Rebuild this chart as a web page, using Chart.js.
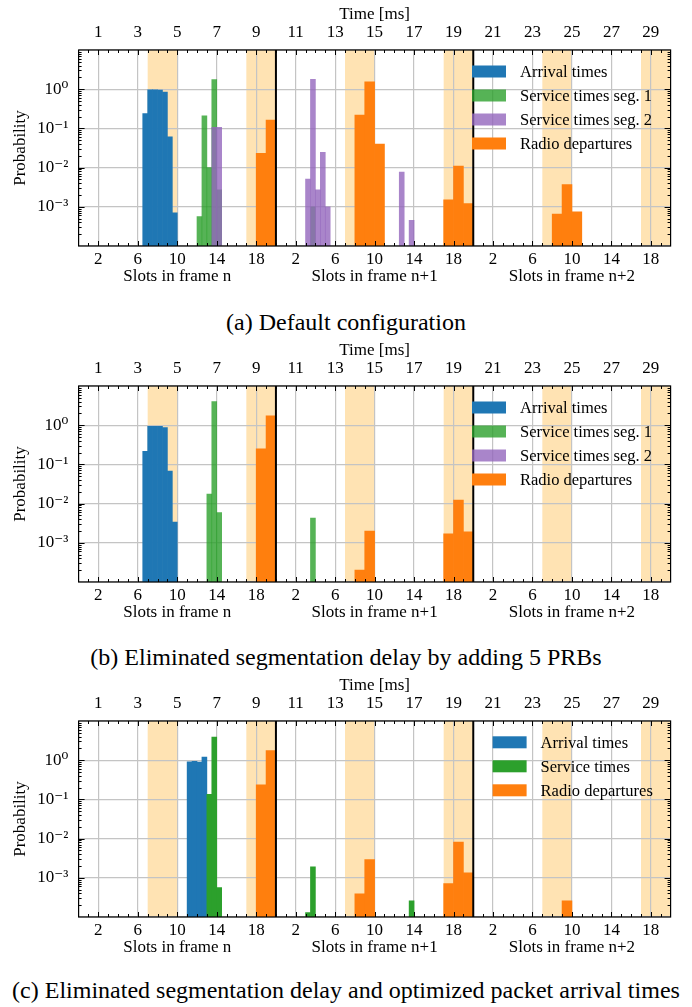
<!DOCTYPE html>
<html>
<head>
<meta charset="utf-8">
<script src="https://cdn.jsdelivr.net/npm/chart.js@4.4.1/dist/chart.umd.min.js"></script>
<style>
  body { margin: 0; background: #fff; width: 692px; height: 1007px; position: relative; overflow: hidden; }
  canvas { position: absolute; left: 0; }
  .caption { position: absolute; left: 0; width: 692px; text-align: center; color: #000;
    font-family: "Liberation Serif", "DejaVu Serif", serif; font-size: 24px; line-height: 28px; }
</style>
</head>
<body>
<canvas id="chartA" width="692" height="300" style="top:0px"></canvas>
<div class="caption" style="top:308px">(a) Default configuration</div>
<canvas id="chartB" width="692" height="300" style="top:336px"></canvas>
<div class="caption" style="top:643px">(b) Eliminated segmentation delay by adding 5 PRBs</div>
<canvas id="chartC" width="692" height="300" style="top:671px"></canvas>
<div class="caption" style="top:976px">(c) Eliminated segmentation delay and optimized packet arrival times</div>

<script>
const fontFamily = '"Liberation Serif", "DejaVu Serif", serif';

// x axis: slots 0..60 over three radio frames, time [ms] = slot / 2
const slotTicks = [2, 6, 10, 14, 18, 22, 26, 30, 34, 38, 42, 46, 50, 54, 58];
const frameLabels = { 10: "Slots in frame n", 30: "Slots in frame n+1", 50: "Slots in frame n+2" };
const decadeTicks = [1e-4, 1e-3, 1e-2, 1e-1, 1, 10];
const shadedSlots = [[7, 10], [17, 20], [27, 30], [37, 40], [47, 50], [57, 60]];
const frameEdges = [20, 40];

// (a) Default configuration -- half-slot bins given by start slot
const arrivalStartA = [6.5, 7, 7.5, 8, 8.5, 9, 9.5];
const arrivalProbA = [0.24, 0.97, 0.97, 0.95, 0.85, 0.061, 0.0007];
const seg1StartA = [12, 12.5, 13, 13.5, 14, 23.5];
const seg1ProbA = [0.00056, 0.21, 0.010, 1.76, 0.0027, 0.001];
const seg2StartA = [13.5, 14, 23, 23.5, 24, 24.5, 25, 32.5, 33.5];
const seg2ProbA = [0.106, 0.106, 0.0051, 1.78, 0.0027, 0.0245, 0.001, 0.0077, 0.00045];
// radio departures use whole-slot bins
const radioSlotA = [18, 19, 28, 29, 30, 37, 38, 39, 48, 49, 50];
const radioProbA = [0.023, 0.163, 0.22, 1.54, 0.040, 0.0015, 0.011, 0.0012, 0.00065, 0.0037, 0.00074];

// (b) Eliminated segmentation delay by adding 5 PRBs
const arrivalStartB = [6.5, 7, 7.5, 8, 8.5, 9, 9.5];
const arrivalProbB = [0.216, 0.93, 0.93, 0.93, 0.87, 0.068, 0.0034];
const seg1StartB = [13, 13.5, 14, 23.5];
const seg1ProbB = [0.0175, 4.0, 0.0059, 0.0043];
const seg2StartB = [];
const seg2ProbB = [];
const radioSlotB = [18, 19, 28, 29, 37, 38, 39];
const radioProbB = [0.25, 1.73, 0.0002, 0.0020, 0.0017, 0.0123, 0.0019];

// (c) Eliminated segmentation delay and optimized packet arrival times
const arrivalStartC = [11, 11.5, 12, 12.5];
const arrivalProbC = [0.91, 0.94, 0.89, 1.2];
const serviceStartC = [13, 13.5, 14, 23, 23.5, 33.5];
const serviceProbC = [0.135, 3.9, 0.00056, 0.00013, 0.0019, 0.00026];
const radioSlotC = [18, 19, 28, 29, 37, 38, 39, 49];
const radioProbC = [0.234, 1.76, 0.00039, 0.0029, 0.00071, 0.0081, 0.00134, 0.00026];

const blue = "#1f77b4";
const orange = "#ff7f0e";
const greenSoft = "rgba(44, 160, 44, 0.8)";
const purpleSoft = "rgba(148, 103, 189, 0.8)";
const green = "#2ca02c";
const gridColor = "#c4c4c4";

function halfSlotBars(label, starts, probs, color, order) {
  return {
    label, backgroundColor: color, xAxisID: "x", order,
    data: starts.map((s, i) => ({ x: s + 0.25, y: probs[i] })),
  };
}

function slotBars(label, starts, probs, color, order) {
  return {
    label, backgroundColor: color, xAxisID: "x2", order,
    data: starts.map((s, i) => ({ x: s + 0.5, y: probs[i] })),
  };
}

const supers = { "-": "\u207B", "0": "\u2070", "1": "\u00B9", "2": "\u00B2", "3": "\u00B3" };
function powerLabel(v) {
  const e = Math.round(Math.log10(v));
  if (e > 0 || e < -3) return "";
  return "10" + String(e).split("").map((c) => supers[c]).join("");
}

// shaded slots, frame edges, inward ticks, box and the legend
function panelDecor(legendAt) {
  return {
    id: "panelDecor",
    beforeDraw(chart) {
      const { ctx, chartArea: a, scales } = chart;
      ctx.save();
      ctx.fillStyle = "#ffe3b3";
      shadedSlots.forEach(([s0, s1]) => {
        const x0 = scales.x.getPixelForValue(s0);
        const x1 = scales.x.getPixelForValue(s1);
        ctx.fillRect(x0, a.top, x1 - x0, a.bottom - a.top);
      });
      ctx.restore();
    },
    afterDatasetsDraw(chart) {
      const { ctx, chartArea: a, scales } = chart;
      ctx.save();
      ctx.strokeStyle = "#000";

      ctx.lineWidth = 2;
      frameEdges.forEach((s) => {
        const px = scales.x.getPixelForValue(s);
        ctx.beginPath();
        ctx.moveTo(px, a.top);
        ctx.lineTo(px, a.bottom);
        ctx.stroke();
      });

      ctx.lineWidth = 1;
      ctx.beginPath();
      for (let s = 1; s < 60; s++) {
        const px = Math.round(scales.x.getPixelForValue(s)) + 0.5;
        const len = slotTicks.includes(s) ? 5 : 3;
        ctx.moveTo(px, a.bottom); ctx.lineTo(px, a.bottom - len);
        ctx.moveTo(px, a.top); ctx.lineTo(px, a.top + len);
      }
      for (let e = -4; e <= 0; e++) {
        for (let k = 1; k <= 9; k++) {
          if (e === -4 && k === 1) continue;
          const py = Math.round(scales.y.getPixelForValue(k * Math.pow(10, e))) + 0.5;
          const len = k === 1 ? 6 : 3;
          ctx.moveTo(a.left, py); ctx.lineTo(a.left + len, py);
          ctx.moveTo(a.right, py); ctx.lineTo(a.right - len, py);
        }
      }
      ctx.stroke();

      ctx.lineWidth = 1.2;
      ctx.strokeRect(a.left, a.top, a.right - a.left, a.bottom - a.top);

      // legend inside the plot
      ctx.font = "16.5px " + fontFamily;
      ctx.textBaseline = "middle";
      ctx.fillStyle = "#000";
      chart.data.datasets.forEach((ds, i) => {
        const cy = a.top + legendAt.top + i * 24;
        const lx = a.left + legendAt.left;
        ctx.fillStyle = ds.backgroundColor;
        ctx.fillRect(lx, cy - 6, 34, 12);
        ctx.fillStyle = "#000";
        ctx.fillText(ds.label, lx + 48, cy + 1);
      });
      ctx.restore();
    },
  };
}

function makeChart(id, datasets, legendAt) {
  const ctx = document.getElementById(id).getContext("2d");
  const tickFont = { family: fontFamily, size: 17 };
  return new Chart(ctx, {
    type: "bar",
    data: { datasets },
    options: {
      responsive: false,
      animation: false,
      events: [],
      layout: { padding: { left: 0, right: 21.4, top: 0, bottom: 0 } },
      datasets: { bar: { grouped: false, barPercentage: 1, categoryPercentage: 1, borderWidth: 0 } },
      plugins: { legend: { display: false }, tooltip: { enabled: false } },
      scales: {
        x: {
          type: "linear", position: "bottom", min: 0, max: 60, offset: false,
          afterBuildTicks: (s) => { s.ticks = slotTicks.map((v) => ({ value: v })); },
          afterFit: (s) => { s.height = 54; },
          grid: { color: gridColor, lineWidth: 1.2, drawTicks: false, offset: false },
          border: { display: false },
          ticks: {
            autoSkip: false, maxRotation: 0, padding: 5.5, color: "#000",
            font: { family: fontFamily, size: 17, lineHeight: 1.0 },
            callback: (v) => frameLabels[v] ? [String(v % 20), frameLabels[v]] : String(v % 20),
          },
        },
        x2: { type: "linear", axis: "x", display: false, min: 0, max: 60, offset: false },
        time: {
          type: "linear", axis: "x", position: "top", min: 0, max: 60, offset: false,
          afterBuildTicks: (s) => { s.ticks = slotTicks.map((v) => ({ value: v })); },
          afterFit: (s) => { s.height = 50; },
          grid: { display: false, drawTicks: false },
          border: { display: false },
          ticks: { autoSkip: false, maxRotation: 0, padding: 6.8, color: "#000", font: tickFont,
            callback: (v) => String(v / 2) },
          title: { display: true, text: "Time [ms]", color: "#000", font: tickFont, padding: { top: 4, bottom: 0 } },
        },
        y: {
          type: "logarithmic", position: "left", min: 1e-4, max: 10,
          afterBuildTicks: (s) => { s.ticks = decadeTicks.map((v) => ({ value: v })); },
          afterFit: (s) => { s.width = 78.6; },
          grid: { color: gridColor, lineWidth: 1.2, drawTicks: false },
          border: { display: false },
          ticks: { autoSkip: false, padding: 10.3, color: "#000", font: tickFont, callback: (v) => powerLabel(v) },
          title: { display: true, text: "Probability", color: "#000", font: tickFont, padding: { top: 10, bottom: 0 } },
        },
      },
    },
    plugins: [panelDecor(legendAt)],
  });
}

document.addEventListener("DOMContentLoaded", () => {
  makeChart("chartA", [
    halfSlotBars("Arrival times", arrivalStartA, arrivalProbA, blue, 4),
    halfSlotBars("Service times seg. 1", seg1StartA, seg1ProbA, greenSoft, 3),
    halfSlotBars("Service times seg. 2", seg2StartA, seg2ProbA, purpleSoft, 2),
    slotBars("Radio departures", radioSlotA, radioProbA, orange, 1),
  ], { left: 393.4, top: 21.5 });

  makeChart("chartB", [
    halfSlotBars("Arrival times", arrivalStartB, arrivalProbB, blue, 4),
    halfSlotBars("Service times seg. 1", seg1StartB, seg1ProbB, greenSoft, 3),
    halfSlotBars("Service times seg. 2", seg2StartB, seg2ProbB, purpleSoft, 2),
    slotBars("Radio departures", radioSlotB, radioProbB, orange, 1),
  ], { left: 393.4, top: 21.5 });

  makeChart("chartC", [
    halfSlotBars("Arrival times", arrivalStartC, arrivalProbC, blue, 3),
    halfSlotBars("Service times", serviceStartC, serviceProbC, green, 2),
    slotBars("Radio departures", radioSlotC, radioProbC, orange, 1),
  ], { left: 414, top: 21.3 });
});
</script>
</body>
</html>
